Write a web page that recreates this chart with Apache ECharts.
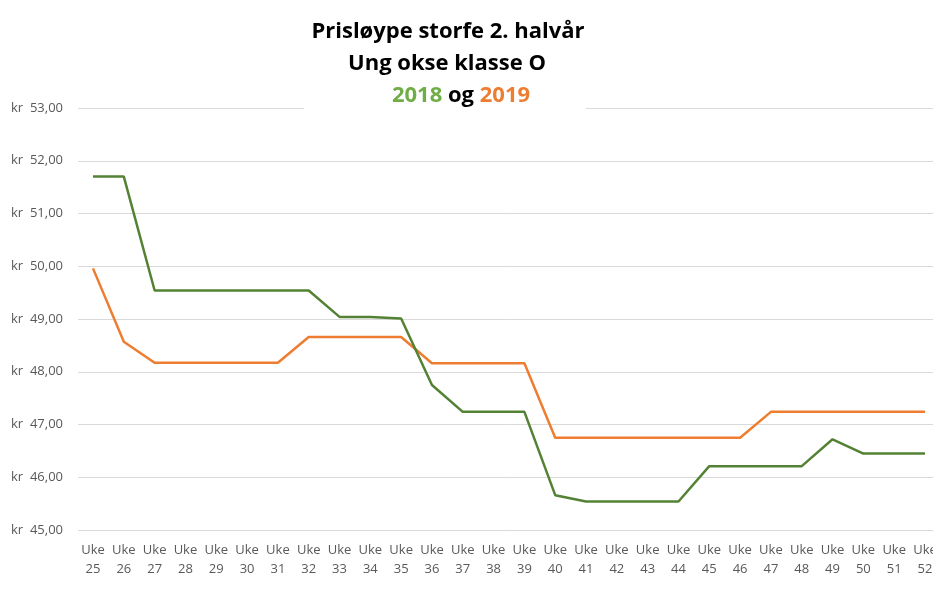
<!DOCTYPE html>
<html>
<head>
<meta charset="utf-8">
<script src="https://cdn.jsdelivr.net/npm/echarts@6/dist/echarts.min.js"></script>
<style>html,body{margin:0;padding:0;background:#fff}#c{width:933px;height:591px}</style>
</head>
<body>
<div id="c"></div>
<script>
const weeks = ['25','26','27','28','29','30','31','32','33','34','35','36','37','38','39','40','41','42','43','44','45','46','47','48','49','50','51','52'];
const categories = weeks.map(w => 'Uke\n' + w);
const values2018 = [51.70,51.70,49.54,49.54,49.54,49.54,49.54,49.54,49.04,49.04,49.01,47.75,47.24,47.24,47.24,45.66,45.54,45.54,45.54,45.54,46.21,46.21,46.21,46.21,46.72,46.45,46.45,46.45];
const values2019 = [49.96,48.57,48.17,48.17,48.17,48.17,48.17,48.66,48.66,48.66,48.66,48.16,48.16,48.16,48.16,46.75,46.75,46.75,46.75,46.75,46.75,46.75,47.24,47.24,47.24,47.24,47.24,47.24];
const yMin = 45, yMax = 53, yStep = 1;

const titleFont = {fontFamily: 'Open Sans', fontWeight: 'bold', fontSize: 22, color: '#000'};
const chart = echarts.init(document.getElementById('c'));
chart.setOption({
  animation: false,
  backgroundColor: '#fff',
  title: [
    {text: 'Prisløype storfe 2. halvår', left: 448, top: 21, padding: 0, textAlign: 'center', textStyle: titleFont},
    {text: 'Ung okse klasse O', left: 447, top: 53, padding: 0, textAlign: 'center', textStyle: titleFont},
    {text: '{g|2018} og {o|2019}', left: 373, top: 81, padding: [4, 56, 3, 88], textAlign: 'center',
     backgroundColor: '#fff',
     textStyle: Object.assign({}, titleFont, {rich: {
       g: Object.assign({}, titleFont, {color: '#70AD47'}),
       o: Object.assign({}, titleFont, {color: '#ED7D31'})
     }})}
  ],
  grid: [
    {left: 78, right: 0, top: 108, height: 422, outerBoundsMode: 'none', containLabel: false},
    {left: 93, right: 8, top: 108, height: 422, outerBoundsMode: 'none', containLabel: false}
  ],
  xAxis: [
    {type: 'value', gridIndex: 0, show: false, min: 0, max: 1},
    {
      type: 'category', gridIndex: 1,
      data: categories,
      boundaryGap: false,
      axisLine: {show: false},
      axisTick: {show: false},
      splitLine: {show: false},
      axisLabel: {color: '#595959', fontFamily: 'Open Sans', fontSize: 13, lineHeight: 19, margin: 11, interval: 0, hideOverlap: false}
    }
  ],
  yAxis: [
    {
      type: 'value', gridIndex: 0,
      min: yMin, max: yMax, interval: yStep,
      axisLine: {show: false},
      axisTick: {show: false},
      splitLine: {lineStyle: {color: '#d9d9d9', width: 1}},
      axisLabel: {
        color: '#595959', fontFamily: 'Open Sans', fontSize: 13, margin: 15,
        formatter: v => 'kr  ' + v.toFixed(2).replace('.', ',')
      }
    },
    {type: 'value', gridIndex: 1, min: yMin, max: yMax, interval: yStep, show: false, splitLine: {show: false}}
  ],
  series: [
    {name: '2018', type: 'line', xAxisIndex: 1, yAxisIndex: 1, data: values2018, showSymbol: false, symbol: 'none',
     lineStyle: {color: '#548235', width: 2.5}, itemStyle: {color: '#548235'}, z: 3},
    {name: '2019', type: 'line', xAxisIndex: 1, yAxisIndex: 1, data: values2019, showSymbol: false, symbol: 'none',
     lineStyle: {color: '#ED7D31', width: 2.5}, itemStyle: {color: '#ED7D31'}, z: 2}
  ]
});
</script>
</body>
</html>
